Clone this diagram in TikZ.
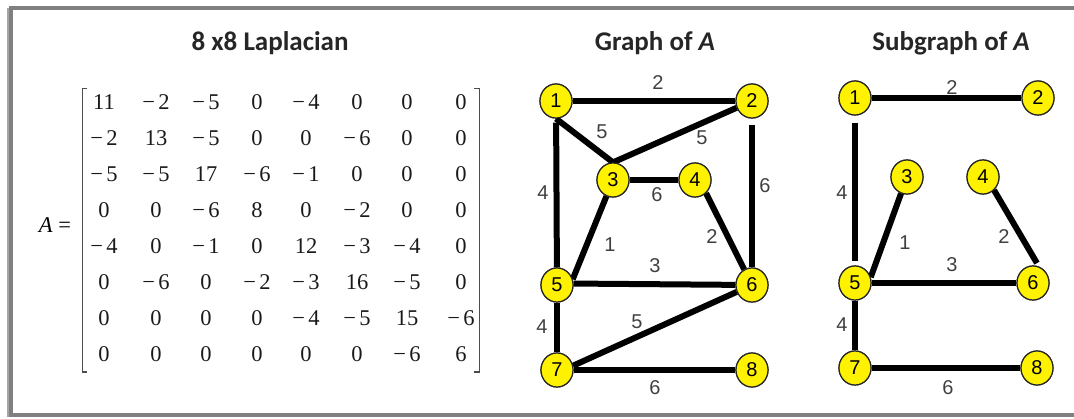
\documentclass[tikz,border=0pt]{standalone}
\usepackage{fontspec}
\setmainfont{Liberation Serif}
\newfontfamily\titlefont{Carlito}
\newfontfamily\labfont{Liberation Sans}
\usetikzlibrary{shapes.geometric}
\tikzset{
  vtx/.style={ellipse, draw=black!85, line width=1.2pt, fill=yellow, minimum width=32pt, minimum height=34pt, inner sep=0pt, font=\labfont\fontsize{20}{20}\selectfont},
  edg/.style={line width=6pt, black},
  lbl/.style={font=\labfont\fontsize{20}{20}\selectfont, text=black!75, inner sep=0pt},
  ttl/.style={font=\titlefont\bfseries\fontsize{27}{27}\selectfont, text=black!85, inner sep=0pt},
  ent/.style={font=\fontsize{22.5}{22.5}\selectfont, text=black!90, inner sep=0pt, anchor=base},
  brk/.style={line width=1.2pt, black!70},
  frm/.style={line width=4pt, black!50}
}
\begin{document}
\begin{tikzpicture}[x=1pt,y=-1pt]
\useasboundingbox (0,0) rectangle (1074,419);
% frame
\draw[frm] (1090,8) -- (11,8) -- (11,415.5) -- (1090,415.5);
\draw[line width=2pt, black!35] (8,8) -- (8,417);
% titles
\node[ttl] (t1) at (270,43) {8 x8 Laplacian};
\node[ttl] (t2) at (655,43) {Graph of \textit{A}};
\node[ttl] (t3) at (951,43) {Subgraph of \textit{A}};
% matrix
\node[font=\fontsize{22.5}{22.5}\selectfont, inner sep=0pt, anchor=base] (aeq) at (55,233) {\textit{A} =};
\draw[brk] (87,88.5) -- (82.5,88.5) -- (82.5,372) -- (87,372);
\draw[brk] (474,88.5) -- (479.5,88.5) -- (479.5,372) -- (474,372);
\def\cols{{104,156,206,257,306,357,407,461}}
\foreach \row [count=\r from 0] in {
  {11,-2,-5,0,-4,0,0,0},
  {-2,13,-5,0,0,-6,0,0},
  {-5,-5,17,-6,-1,0,0,0},
  {0,0,-6,8,0,-2,0,0},
  {-4,0,-1,0,12,-3,-4,0},
  {0,-6,0,-2,-3,16,-5,0},
  {0,0,0,0,-4,-5,15,-6},
  {0,0,0,0,0,0,-6,6}} {
  \foreach \v [count=\c from 0] in \row {
    \pgfmathsetmacro{\xx}{\cols[\c]}
    \pgfmathtruncatemacro{\neg}{\v<0 ? 1 : 0}
    \pgfmathtruncatemacro{\av}{abs(\v)}
    \ifnum\neg=1
      \node[ent] (m\r\c) at (\xx,110+36*\r) {−\hspace{0.15em}\av};
    \else
      \node[ent] (m\r\c) at (\xx,110+36*\r) {\av};
    \fi
  }
}
% Graph of A
\node[vtx] (a1) at (556,101) {1};
\node[vtx] (a2) at (752,101) {2};
\node[vtx] (a3) at (613,180) {3};
\node[vtx] (a4) at (695,180) {4};
\node[vtx] (a5) at (557,285) {5};
\node[vtx] (a6) at (752,285) {6};
\node[vtx] (a7) at (557,370) {7};
\node[vtx] (a8) at (752,370) {8};
\draw[edg] (a1) -- (a2);
\draw[edg] (a1.south) -- (a3.north);
\draw[edg] (a2) -- (a3.north);
\draw[edg] (a3) -- (a4);
\draw[edg] (a4.-50) -- (a6);
\draw[edg, shorten <=6pt] (a2) -- (a6);
\draw[edg, shorten <=4pt] (a1) -- (a5);
\draw[edg] (a3) -- (a5.20);
\draw[edg] (a5.5) -- (a6);
\draw[edg] (a6) -- (a7.15);
\draw[edg] (a5) -- (a7);
\draw[edg] (a7) -- (a8);
% redraw nodes on top
\foreach \n/\t in {a1/1,a2/2,a3/3,a4/4,a5/5,a6/6,a7/7,a8/8} {
  \node[vtx] at (\n) {\t};
}
\node[lbl] (la12) at (658,83) {2};
\node[lbl] (la13) at (602,132) {5};
\node[lbl] (la23) at (702,138) {5};
\node[lbl] (la34) at (657,195) {6};
\node[lbl] (la26) at (765,186) {6};
\node[lbl] (la15) at (543,193) {4};
\node[lbl] (la35) at (610,245) {1};
\node[lbl] (la46) at (712,237) {2};
\node[lbl] (la56) at (655,266) {3};
\node[lbl] (la67) at (637,322) {5};
\node[lbl] (la57) at (542,327) {4};
\node[lbl] (la78) at (655,388) {6};
% Subgraph of A
\node[vtx] (b1) at (855,98) {1};
\node[vtx] (b2) at (1038,98) {2};
\node[vtx] (b3) at (907,177) {3};
\node[vtx] (b4) at (983,177) {4};
\node[vtx] (b5) at (855,283) {5};
\node[vtx] (b6) at (1033,283) {6};
\node[vtx] (b7) at (855,368) {7};
\node[vtx] (b8) at (1037,368) {8};
\draw[edg] (b1) -- (b2);
\draw[edg, shorten <=7pt, shorten >=4pt] (b1) -- (b5);
\draw[edg] (b3) -- (b5.20);
\draw[edg, shorten >=4pt] (b4.-50) -- (b6.70);
\draw[edg] (b5) -- (b6);
\draw[edg] (b5) -- (b7);
\draw[edg] (b7) -- (b8);
\foreach \n/\t in {b1/1,b2/2,b3/3,b4/4,b5/5,b6/6,b7/7,b8/8} {
  \node[vtx] at (\n) {\t};
}
\node[lbl] (lb12) at (952,88) {2};
\node[lbl] (lb15) at (842,193) {4};
\node[lbl] (lb35) at (905,243) {1};
\node[lbl] (lb46) at (1004,237) {2};
\node[lbl] (lb56) at (952,265) {3};
\node[lbl] (lb57) at (842,325) {4};
\node[lbl] (lb78) at (948,388) {6};
\end{tikzpicture}
\end{document}
